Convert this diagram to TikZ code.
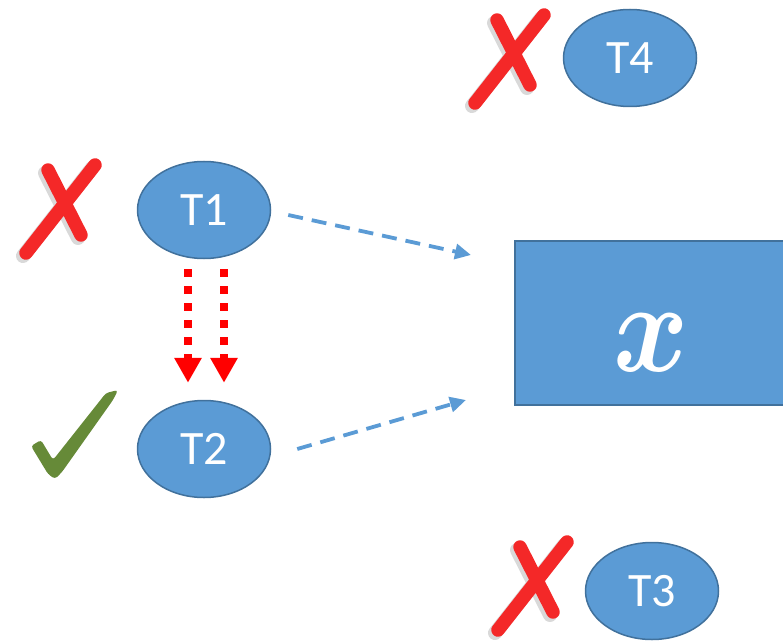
\documentclass[tikz,border=0pt]{standalone}
\usepackage{fontspec}
\newfontfamily\calibri{Carlito}
\usetikzlibrary{shapes.geometric,arrows.meta,positioning}
\definecolor{taskblue}{HTML}{5B9BD5}
\definecolor{taskedge}{HTML}{41719C}
\definecolor{crossred}{HTML}{F42828}
\definecolor{checkgreen}{HTML}{668A38}

% brush-like cross, origin at the upper end of the long stroke
\tikzset{
    redcross/.pic={
        \draw[gray!50,line width=14,line cap=round,opacity=.6]
            (-53,13) -- (-20,78) (-6,8) -- (-75,96);
        \draw[crossred,line width=13.5,line cap=round]
            (-50,10) -- (-17,75) (-3,5) -- (-72,93);
    }
}

\begin{document}
\begin{tikzpicture}[x=1pt,y=-1pt,
    task/.style={ellipse,fill=taskblue,draw=taskedge,line width=1.5,
        minimum width=133,minimum height=97,inner sep=0,
        text=white,font=\calibri\fontsize{48}{48}\selectfont},
    varbox/.style={rectangle,fill=taskblue,draw=taskedge,line width=2,
        minimum width=272,minimum height=164,inner sep=0},
    varlabel/.style={text=white,inner sep=0,font=\fontsize{24}{24}\selectfont\boldmath},
    flow/.style={taskblue,line width=3.8,dash pattern=on 15 off 9,
        -{Triangle[length=16,width=15]}},
    order/.style={red,line width=8,dash pattern=on 8 off 9,
        -{Triangle[length=25,width=26]}}
    ]
    \useasboundingbox (0,0) rectangle (783,644);

    % tasks and the shared variable
    \node[task] (T1) at (204,210) {T1};
    \node[task] (T2) at (204,449) {T2};
    \node[task] (T4) at (630,58) {T4};
    \node[task] (T3) at (652,591) {T3};
    \node[varbox] (X) at (651,323) {};
    \node[varlabel] (x) at (651,343) {\scalebox{4.6}[5.2]{$x$}};

    % accesses
    \draw[flow] ([shift={(17,5)}]T1.east) -- ([shift={(-43,-68)}]X.west);
    \draw[flow] ([shift={(26,0)}]T2.east) -- ([shift={(-48,77)}]X.west);

    % ordering between T1 and T2
    \draw[order] ([shift={(-16,10)}]T1.south) -- ([shift={(-16,-17)}]T2.north);
    \draw[order] ([shift={(20,10)}]T1.south) -- ([shift={(20,-17)}]T2.north);

    % marks
    \pic at (98,160) {redcross};
    \pic at (547,10) {redcross};
    \pic at (570,537) {redcross};
    \fill[checkgreen,rounded corners=3] (31,446) -- (41,440) -- (53,460)
        -- (106,393) -- (118,390) -- (113,400) -- (62,472) -- (55,479)
        -- (48,474) -- cycle;
\end{tikzpicture}
\end{document}
